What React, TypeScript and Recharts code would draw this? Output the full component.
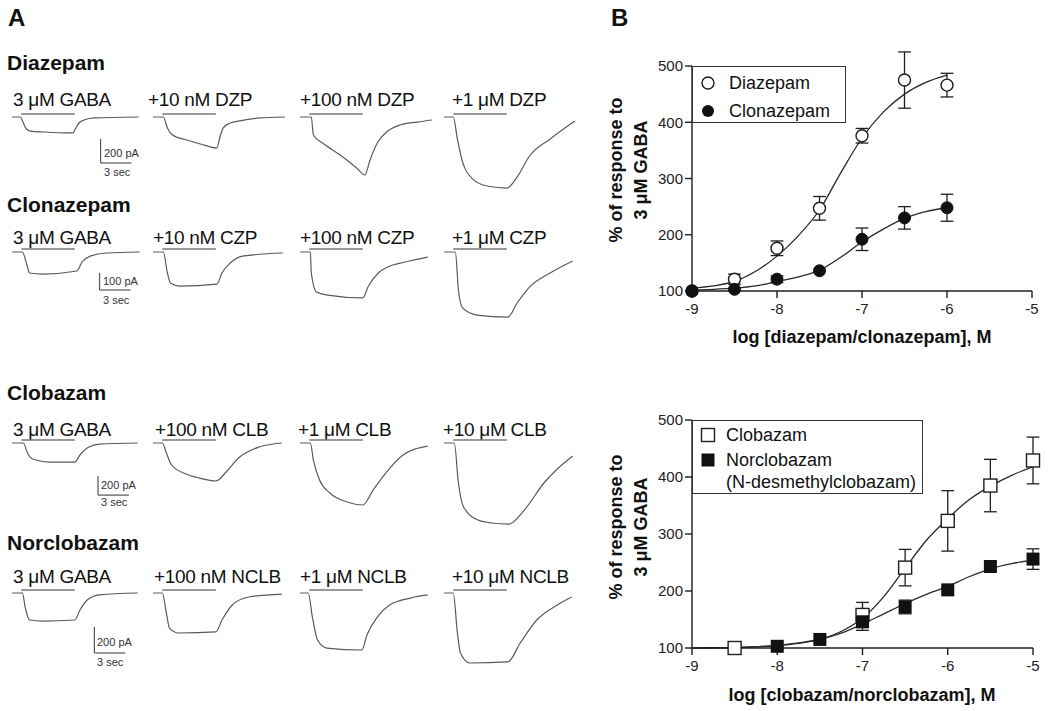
import React from 'react';
import { LineChart, Line, XAxis, YAxis, ReferenceLine, ComposedChart, Scatter } from 'recharts';

const FONT = '"Liberation Sans", Arial, Helvetica, sans-serif';

// ================= Panel A data =================
const ROW_TITLES = ['Diazepam', 'Clonazepam', 'Clobazam', 'Norclobazam'];
const DZP_LABELS = ['3 μM GABA', '+10 nM DZP', '+100 nM DZP', '+1 μM DZP'];
const CZP_LABELS = ['3 μM GABA', '+10 nM CZP', '+100 nM CZP', '+1 μM CZP'];
const CLB_LABELS = ['3 μM GABA', '+100 nM CLB', '+1 μM CLB', '+10 μM CLB'];
const NCLB_LABELS = ['3 μM GABA', '+100 nM NCLB', '+1 μM NCLB', '+10 μM NCLB'];
const SCALE_PA = [200, 100, 200, 200];
const SCALE_SEC = 3;
const DRUG_ON = 0.9; // s
const DRUG_OFF = 6.1; // s

// traces: [time (s), current (pA)]
const DZP_TRACES: [number, number][][] = [
  [[0, 0], [0.8, 0], [1.1, -50], [1.4, -100], [1.8, -117], [3.1, -125], [5.9, -133], [6.2, -92], [6.5, -50], [7.0, -25], [8.0, -8], [12.3, 0]],
  [[0, 0], [1.0, 0], [1.4, -92], [1.9, -150], [3.3, -192], [4.6, -225], [6.2, -258], [6.5, -167], [6.8, -92], [7.5, -50], [8.4, -33], [10.4, -8], [12.8, 0]],
  [[0, 0], [1.1, 0], [1.3, -150], [2.2, -217], [3.9, -317], [5.5, -425], [6.3, -483], [6.8, -358], [7.5, -217], [8.4, -125], [9.7, -67], [11.4, -42], [12.8, -25]],
  [[0, 0], [0.9, 0], [1.3, -183], [1.8, -375], [2.8, -517], [4.2, -575], [6.1, -592], [7.1, -500], [8.3, -325], [10.3, -183], [12.7, -33]],
];
const CZP_TRACES: [number, number][][] = [
  [[0, 0], [1.0, 0], [1.5, -88], [1.7, -124], [3.0, -130], [6.3, -112], [6.8, -59], [7.6, -24], [9.2, -6], [12.4, 0]],
  [[0, 0], [1.0, 0], [1.4, -124], [1.7, -183], [2.6, -201], [6.2, -189], [6.7, -124], [7.5, -65], [8.7, -24], [12.6, -6]],
  [[0, 0], [1.0, 0], [1.1, -124], [1.6, -236], [2.7, -254], [6.1, -271], [6.6, -207], [7.6, -124], [8.5, -89], [10.2, -59], [12.4, -30]],
  [[0, 0], [1.1, 0], [1.4, -224], [1.8, -330], [3.2, -372], [6.2, -384], [7.1, -301], [8.3, -207], [10.3, -124], [12.5, -53]],
];
const CLB_TRACES: [number, number][][] = [
  [[0, 0], [1.1, 0], [1.5, -105], [2.0, -168], [3.7, -200], [6.1, -200], [6.6, -126], [7.3, -53], [8.5, -11], [12.2, 0]],
  [[0, 0], [0.9, 0], [1.3, -105], [1.8, -231], [3.2, -326], [4.5, -368], [6.1, -399], [7.1, -305], [8.3, -158], [10.3, -42], [12.5, 0]],
  [[0, 0], [1.0, 0], [1.3, -179], [1.9, -389], [2.9, -525], [4.6, -620], [6.1, -651], [7.1, -494], [8.4, -305], [10.0, -126], [12.4, -32]],
  [[0, 0], [1.0, 0], [1.4, -420], [1.9, -672], [3.3, -809], [4.6, -840], [6.3, -851], [7.8, -704], [9.7, -420], [11.1, -263], [12.5, -137]],
];
const NCLB_TRACES: [number, number][][] = [
  [[0, 0], [1.0, 0], [1.3, -116], [1.7, -208], [3.0, -216], [6.1, -208], [6.6, -131], [7.3, -54], [8.5, -15], [12.2, 0]],
  [[0, 0], [0.9, 0], [1.3, -154], [1.6, -270], [2.5, -308], [6.1, -300], [6.7, -208], [7.7, -92], [9.3, -31], [12.5, -8]],
  [[0, 0], [0.8, 0], [1.2, -185], [1.7, -362], [2.6, -424], [6.0, -439], [6.5, -323], [7.5, -185], [8.7, -92], [10.7, -39], [12.4, -15]],
  [[0, 0], [0.9, 0], [1.3, -308], [1.6, -462], [2.5, -539], [6.2, -531], [7.4, -385], [9.0, -208], [11.0, -92], [12.4, -31]],
];
const ROW_LABELS = [DZP_LABELS, CZP_LABELS, CLB_LABELS, NCLB_LABELS];
const ROW_TRACES = [DZP_TRACES, CZP_TRACES, CLB_TRACES, NCLB_TRACES];

// ================= Panel B data =================
const LOG_TICKS = [-9, -8, -7, -6, -5];
const PCT_TICKS = [100, 200, 300, 400, 500];

const DZP_X = [-9, -8.5, -8, -7.5, -7, -6.5, -6];
const DZP_Y = [100, 121, 176, 247, 376, 475, 466];
const DZP_ERR = [0, 9, 13, 21, 13, 50, 21];
const CZP_X = [-9, -8.5, -8, -7.5, -7, -6.5, -6];
const CZP_Y = [100, 103, 121, 136, 192, 230, 248];
const CZP_ERR = [0, 0, 6, 0, 20, 20, 24];
const FIT1_X = [-9, -8.75, -8.5, -8.25, -8, -7.75, -7.5, -7.25, -7, -6.75, -6.5, -6.25, -6];
const DZP_FIT = [105, 109, 117, 135, 162, 198, 244, 310, 372, 418, 450, 471, 484];
const CZP_FIT = [102, 103, 105, 109, 117, 125, 137, 160, 187, 210, 229, 241, 248];

const CLB_X = [-8.5, -7, -6.5, -6, -5.5, -5];
const CLB_Y = [100, 158, 241, 323, 385, 429];
const CLB_ERR = [0, 22, 32, 53, 46, 41];
const NCLB_X = [-8, -7.5, -7, -6.5, -6, -5.5, -5];
const NCLB_Y = [103, 115, 146, 172, 202, 243, 256];
const NCLB_ERR = [0, 0, 15, 12, 0, 7, 18];
const FIT2_X = [-9, -8.75, -8.5, -8.25, -8, -7.75, -7.5, -7.25, -7, -6.75, -6.5, -6.25, -6, -5.75, -5.5, -5.25, -5];
const CLB_FIT = [100, 100, 100.5, 102, 104, 108, 115, 129, 152, 190, 240, 289, 327, 360, 384, 403, 418];
const NCLB_FIT = [100, 100.5, 101, 102.5, 104.5, 109, 115, 126, 142, 160, 178, 194, 208, 225, 239, 248, 254];

// ================= Layout =================
const ROW_BASE = [117, 252, 443, 593];
const ROW_PA_PER_PX = [8.33, 5.9, 10.5, 7.7];
const COL_X = [12, 153, 300, 444];
const TRACE_W = 136;
const TRACE_H = 100;
const BASE_OFF = 10;
const PX_PER_S = 10.3;
const LABEL_CY = [100, 238, 430, 577];
const LABEL_X = [[13, 148, 300, 452], [13, 153, 300, 452], [13, 155, 298, 443], [13, 154, 300, 452]];
const TITLE_CY = [63, 205, 393, 543];
const SCALEBAR = [{ t: 8.6, top: -183 }, { t: 8.5, top: -124 }, { t: 8.35, top: -347 }, { t: 8.0, top: -262 }];
const SCALE_TEXT = [{ x: 104, pa: 153, sec: 172 }, { x: 103, pa: 281, sec: 300 }, { x: 101, pa: 485, sec: 502 }, { x: 97, pa: 642, sec: 662 }];
const CAP = 0.075;
const INK = '#1e1e1e';

function Trace({ pts, row, col }: { pts: [number, number][]; row: number; col: number }) {
  const s = ROW_PA_PER_PX[row];
  const data = pts.map(([t, i]) => ({ t, i }));
  const yDom = [-(TRACE_H - BASE_OFF) * s, BASE_OFF * s];
  const barY = 3 * s;
  const sb = col === 0 ? SCALEBAR[row] : null;
  return (
    <div style={{ position: 'absolute', left: COL_X[col], top: ROW_BASE[row] - BASE_OFF }}>
      <LineChart width={TRACE_W} height={TRACE_H} data={data} margin={{ top: 0, right: 0, bottom: 0, left: 0 }}>
        <XAxis type="number" dataKey="t" domain={[0, TRACE_W / PX_PER_S]} hide allowDataOverflow />
        <YAxis type="number" domain={yDom} hide allowDataOverflow />
        <ReferenceLine segment={[{ x: DRUG_ON, y: barY }, { x: DRUG_OFF, y: barY }]} stroke="#777" strokeWidth={1.7} />
        {sb && (
          <ReferenceLine segment={[{ x: sb.t, y: sb.top }, { x: sb.t, y: sb.top - SCALE_PA[row] }]} stroke="#555" strokeWidth={1.2} />
        )}
        {sb && (
          <ReferenceLine
            segment={[{ x: sb.t, y: sb.top - SCALE_PA[row] }, { x: sb.t + SCALE_SEC, y: sb.top - SCALE_PA[row] }]}
            stroke="#555"
            strokeWidth={1.2}
          />
        )}
        <Line type="monotone" dataKey="i" stroke="#5a5a5a" strokeWidth={1.2} dot={false} isAnimationActive={false} />
      </LineChart>
    </div>
  );
}

const zip = (xs: number[], ys: number[]) => xs.map((x, i) => ({ x, y: ys[i] }));

function errBars(xs: number[], ys: number[], es: number[], prefix: string) {
  const out: React.ReactNode[] = [];
  xs.forEach((x, i) => {
    const e = es[i];
    if (!e) return;
    const y = ys[i];
    const common = { stroke: INK, strokeWidth: 1.3, ifOverflow: 'visible' as const };
    out.push(<ReferenceLine key={prefix + 'v' + i} segment={[{ x, y: y - e }, { x, y: y + e }]} {...common} />);
    out.push(<ReferenceLine key={prefix + 'u' + i} segment={[{ x: x - CAP, y: y + e }, { x: x + CAP, y: y + e }]} {...common} />);
    out.push(<ReferenceLine key={prefix + 'l' + i} segment={[{ x: x - CAP, y: y - e }, { x: x + CAP, y: y - e }]} {...common} />);
  });
  return out;
}

const openCircle = (p: any) => <circle cx={p.cx} cy={p.cy} r={6} fill="#fff" stroke={INK} strokeWidth={1.4} />;
const filledCircle = (p: any) => <circle cx={p.cx} cy={p.cy} r={6} fill="#111" stroke="#111" strokeWidth={1} />;
const openSquare = (p: any) => (
  <rect x={p.cx - 6.5} y={p.cy - 6.5} width={13} height={13} fill="#fff" stroke={INK} strokeWidth={1.4} />
);
const filledSquare = (p: any) => <rect x={p.cx - 6.5} y={p.cy - 6.5} width={13} height={13} fill="#111" />;

const tickStyle = { fontSize: 15, fill: '#222', fontFamily: FONT };

type Series = { x: number[]; y: number[]; e: number[]; fit: number[]; fitX: number[]; shape: (p: any) => React.ReactElement; name: string };

function DoseChart({ top, height, marginTop, marginRight, plotH, series }: { top: number; height: number; marginTop: number; marginRight: number; plotH: number; series: Series[] }) {
  return (
    <div style={{ position: 'absolute', left: 600, top }}>
      <ComposedChart width={450} height={height} margin={{ top: marginTop, right: marginRight, bottom: 0, left: 0 }}>
        <XAxis
          type="number"
          dataKey="x"
          domain={[-9, -5]}
          ticks={LOG_TICKS}
          tickSize={7}
          tickMargin={5}
          height={height - marginTop - plotH}
          tick={tickStyle}
          axisLine={{ stroke: INK, strokeWidth: 1.4 }}
          tickLine={{ stroke: INK, strokeWidth: 1.4 }}
        />
        <YAxis
          type="number"
          dataKey="y"
          domain={[100, 500]}
          ticks={PCT_TICKS}
          tickSize={7}
          tickMargin={2}
          width={92}
          tick={tickStyle}
          axisLine={{ stroke: INK, strokeWidth: 1.4 }}
          tickLine={{ stroke: INK, strokeWidth: 1.4 }}
        />
        {series.map((s) => (
          <Line
            key={s.name + 'fit'}
            data={zip(s.fitX, s.fit)}
            dataKey="y"
            type="monotone"
            dot={false}
            stroke="#2a2a2a"
            strokeWidth={1.3}
            isAnimationActive={false}
          />
        ))}
        {series.map((s) => errBars(s.x, s.y, s.e, s.name))}
        {series.map((s) => (
          <Scatter key={s.name} name={s.name} data={zip(s.x, s.y)} dataKey="y" shape={s.shape} isAnimationActive={false} />
        ))}
      </ComposedChart>
    </div>
  );
}

const abs = (left: number, cy: number, lh: number, extra: React.CSSProperties = {}): React.CSSProperties => ({
  position: 'absolute',
  left,
  top: cy - lh / 2,
  lineHeight: lh + 'px',
  whiteSpace: 'nowrap',
  ...extra,
});

function Marker({ cx, cy, kind }: { cx: number; cy: number; kind: string }) {
  return (
    <svg style={{ position: 'absolute', left: cx - 8, top: cy - 8 }} width={16} height={16}>
      {kind === 'oc' && <circle cx={8} cy={8} r={6} fill="#fff" stroke={INK} strokeWidth={1.4} />}
      {kind === 'fc' && <circle cx={8} cy={8} r={6} fill="#111" />}
      {kind === 'os' && <rect x={1.5} y={1.5} width={13} height={13} fill="#fff" stroke={INK} strokeWidth={1.4} />}
      {kind === 'fs' && <rect x={1.5} y={1.5} width={13} height={13} fill="#111" />}
    </svg>
  );
}

export default function App() {
  const topSeries: Series[] = [
    { x: DZP_X, y: DZP_Y, e: DZP_ERR, fit: DZP_FIT, fitX: FIT1_X, shape: openCircle, name: 'Diazepam' },
    { x: CZP_X, y: CZP_Y, e: CZP_ERR, fit: CZP_FIT, fitX: FIT1_X, shape: filledCircle, name: 'Clonazepam' },
  ];
  const botSeries: Series[] = [
    { x: CLB_X, y: CLB_Y, e: CLB_ERR, fit: CLB_FIT, fitX: FIT2_X, shape: openSquare, name: 'Clobazam' },
    { x: NCLB_X, y: NCLB_Y, e: NCLB_ERR, fit: NCLB_FIT, fitX: FIT2_X, shape: filledSquare, name: 'Norclobazam' },
  ];
  const yTitle = (cy: number) => (
    <div
      style={{
        position: 'absolute',
        left: 629 - 110,
        top: cy - 25,
        width: 220,
        height: 50,
        lineHeight: '25px',
        textAlign: 'center',
        fontWeight: 'bold',
        fontSize: 18,
        transform: 'rotate(-90deg)',
        color: '#111',
      }}
    >
      <div>% of response to</div>
      <div>3 μM GABA</div>
    </div>
  );
  const xTitle = (cy: number, text: string) => (
    <div
      style={{
        position: 'absolute',
        left: 862 - 200,
        width: 400,
        top: cy - 12,
        lineHeight: '24px',
        textAlign: 'center',
        fontWeight: 'bold',
        fontSize: 18,
        color: '#111',
      }}
    >
      {text}
    </div>
  );
  return (
    <div style={{ position: 'absolute', left: 0, top: 0, width: 1050, height: 711, background: '#fff', fontFamily: FONT, color: '#111', overflow: 'hidden' }}>
      {/* Panel A */}
      <div style={abs(8, 18, 28, { fontSize: 24, fontWeight: 'bold' })}>A</div>
      {ROW_TITLES.map((t, r) => (
        <div key={t} style={abs(7, TITLE_CY[r], 26, { fontSize: 21, fontWeight: 'bold' })}>
          {t}
        </div>
      ))}
      {ROW_LABELS.map((labels, r) =>
        labels.map((lab, c) => (
          <div key={r + '-' + c} style={abs(LABEL_X[r][c], LABEL_CY[r], 22, { fontSize: 19, letterSpacing: -0.3 })}>
            {lab}
          </div>
        ))
      )}
      {ROW_TRACES.map((traces, r) => traces.map((pts, c) => <Trace key={r + '_' + c} pts={pts} row={r} col={c} />))}
      {SCALE_TEXT.map((st, r) => (
        <React.Fragment key={'st' + r}>
          <div style={abs(st.x, st.pa, 14, { fontSize: 11, color: '#333' })}>{SCALE_PA[r]} pA</div>
          <div style={abs(st.x, st.sec, 14, { fontSize: 11, color: '#333' })}>{SCALE_SEC} sec</div>
        </React.Fragment>
      ))}

      {/* Panel B */}
      <div style={abs(611, 18, 28, { fontSize: 24, fontWeight: 'bold' })}>B</div>
      <DoseChart top={50} height={300} marginTop={16} marginRight={18} plotH={225} series={topSeries} />
      <DoseChart top={405} height={290} marginTop={15} marginRight={17} plotH={228} series={botSeries} />
      {yTitle(170)}
      {yTitle(527)}
      {xTitle(337, 'log [diazepam/clonazepam], M')}
      {xTitle(695, 'log [clobazam/norclobazam], M')}

      {/* Legends */}
      <div style={{ position: 'absolute', left: 692, top: 66, width: 154, height: 57, border: '1px solid #333', boxSizing: 'border-box', background: '#fff' }} />
      <Marker cx={708} cy={83} kind="oc" />
      <Marker cx={708} cy={111} kind="fc" />
      <div style={abs(729, 83, 24, { fontSize: 18 })}>Diazepam</div>
      <div style={abs(729, 111, 24, { fontSize: 18 })}>Clonazepam</div>

      <div style={{ position: 'absolute', left: 692, top: 420, width: 231, height: 74, border: '1px solid #333', boxSizing: 'border-box', background: '#fff' }} />
      <Marker cx={708} cy={435} kind="os" />
      <Marker cx={708} cy={460} kind="fs" />
      <div style={abs(726, 435, 24, { fontSize: 18 })}>Clobazam</div>
      <div style={abs(726, 460, 24, { fontSize: 18 })}>Norclobazam</div>
      <div style={abs(726, 482, 24, { fontSize: 18 })}>(N-desmethylclobazam)</div>
    </div>
  );
}
